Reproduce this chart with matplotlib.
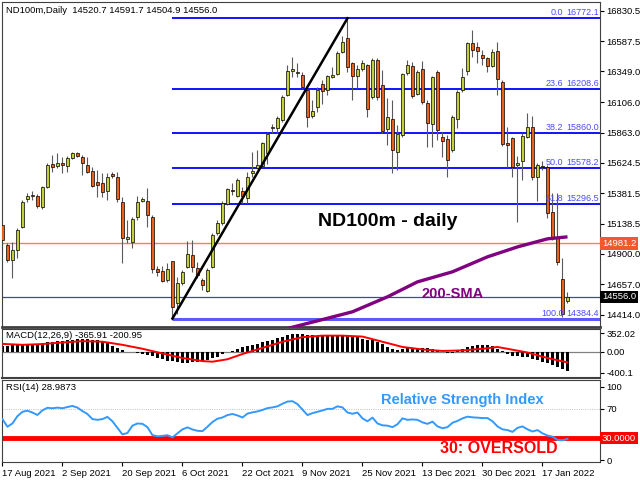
import matplotlib.pyplot as plt
import numpy as np

plt.rcParams['font.family'] = ['Liberation Sans', 'DejaVu Sans']

opens = [15129, 14970, 14851, 14930, 15113, 15336, 15360, 15360, 15272, 15431,
         15614, 15598, 15622, 15598, 15662, 15702, 15670, 15606, 15559, 15471,
         15463, 15400, 15535, 15511, 15312, 15018, 14994, 15193, 15320, 15320,
         15193, 14779, 14764, 14692, 14843, 14509, 14668, 14795, 14891, 14787,
         14692, 14605, 14795, 15066, 15145, 15296, 15408, 15360, 15400, 15344,
         15543, 15582, 15598, 15702, 15900, 15900, 15964, 16163, 16354, 16338,
         16322, 16202, 15996, 16067, 16250, 16202, 16306, 16330, 16505, 16616,
         16417, 16314, 16369, 16401, 16147, 16441, 16242, 15892, 15972, 15710,
         15845, 16338, 16393, 16171, 16369, 16099, 15932, 16346, 15829, 15813,
         15726, 15972, 16202, 16354, 16576, 16544, 16481, 16457, 16393, 16513,
         16266, 15781, 15821, 15606, 15638, 15829, 15908, 15511, 15598, 15590,
         15233, 15034, 14700, 14520.7]
highs = [15145, 14986, 14994, 15105, 15328, 15384, 15400, 15376, 15439, 15622,
         15686, 15702, 15670, 15678, 15710, 15710, 15686, 15670, 15590, 15567,
         15543, 15543, 15551, 15551, 15352, 15169, 15193, 15360, 15352, 15423,
         15209, 14803, 14803, 14827, 14843, 14716, 14772, 15002, 15010, 14835,
         14708, 14787, 15066, 15169, 15320, 15423, 15463, 15503, 15431, 15551,
         15710, 15726, 15789, 15861, 15932, 15996, 16163, 16401, 16465, 16417,
         16346, 16218, 16123, 16226, 16282, 16322, 16385, 16513, 16632, 16772.1,
         16425, 16401, 16441, 16410, 16457, 16457, 16361, 16139, 16123, 15924,
         16338, 16441, 16425, 16361, 16433, 16123, 16314, 16361, 15869, 15845,
         16004, 16202, 16377, 16584, 16680, 16584, 16521, 16465, 16528, 16584,
         16282, 15908, 15829, 15678, 15861, 16020, 15996, 15622, 15638, 15606,
         15384, 15384, 14867, 14591.7]
lows = [14907, 14835, 14708, 14867, 15105, 15312, 15328, 15264, 15256, 15423,
        15551, 15582, 15543, 15551, 15654, 15670, 15527, 15543, 15431, 15352,
        15352, 15328, 15503, 15312, 14827, 14986, 14946, 15169, 15312, 15113,
        14748, 14724, 14676, 14676, 14384.4, 14422, 14652, 14787, 14756, 14708,
        14612, 14597, 14787, 15050, 15129, 15288, 15368, 15352, 15304, 15304,
        15511, 15574, 15590, 15614, 15861, 15861, 15948, 16155, 16306, 16306,
        16218, 15908, 15980, 16028, 16091, 16163, 16298, 16322, 16497, 16346,
        16123, 16218, 16354, 15988, 16131, 16123, 15861, 15765, 15543, 15567,
        15829, 16322, 16139, 16163, 16091, 15749, 15749, 15805, 15670, 15511,
        15710, 15900, 16187, 16322, 16465, 16417, 16401, 16346, 16385, 16163,
        15757, 15590, 15511, 15153, 15487, 15821, 15487, 15320, 15567, 15185,
        15010, 14811, 14400, 14504.9]
closes = [15010, 14851, 14930, 15090, 15312, 15360, 15368, 15280, 15431, 15606,
          15590, 15622, 15606, 15662, 15702, 15678, 15622, 15551, 15439, 15447,
          15392, 15511, 15519, 15336, 15026, 15034, 15177, 15312, 15336, 15209,
          14779, 14756, 14684, 14779, 14477, 14668, 14756, 14899, 14795, 14732,
          14652, 14772, 15050, 15145, 15304, 15415, 15400, 15487, 15360, 15511,
          15559, 15606, 15781, 15853, 15908, 15980, 16147, 16354, 16369, 16346,
          16226, 15988, 16036, 16202, 16195, 16314, 16322, 16497, 16584, 16385,
          16314, 16369, 16417, 16051, 16441, 16147, 15877, 15988, 15726, 15853,
          16330, 16401, 16155, 16346, 16107, 15940, 16306, 15885, 15797, 15646,
          15988, 16187, 16306, 16576, 16521, 16513, 16457, 16393, 16505, 16290,
          15773, 15765, 15590, 15622, 15837, 15908, 15511, 15606, 15590, 15225,
          15034, 14835, 14422, 14556.0]

sma_idx = [56, 63, 70, 77, 83, 90, 97, 103, 109, 113]
sma_vals = [14295, 14366, 14438, 14557, 14676, 14756, 14875, 14954, 15018, 15034]

macd_hist = [120, 122, 125, 135, 140, 145, 155, 160, 170, 180,
             190, 200, 215, 225, 235, 240, 240, 238, 235, 225,
             200, 170, 120, 80, 40, 5, -10, -25, -45, -60,
             -85, -110, -140, -165, -180, -200, -205, -205, -200, -190,
             -175, -150, -125, -90, -50, -10, 25, 60, 85, 110,
             135, 160, 180, 205, 230, 260, 285, 320, 352, 350,
             335, 320, 315, 310, 310, 305, 305, 300, 300, 295,
             290, 285, 255, 230, 220, 185, 150, 90, 60, 45,
             60, 65, 70, 75, 75, 70, 55, 40, -10, -25,
             -15, 20, 60, 100, 115, 125, 130, 135, 110, 60,
             20, -40, -70, -85, -95, -105, -130, -155, -185, -210,
             -250, -290, -330, -366]
macd_last = -365.91
signal_last = -200.95
signal_idx = [0, 4, 8, 12, 16, 20, 24, 28, 32, 36, 40, 42, 45, 48, 52, 56, 60, 64,
              68, 72, 76, 80, 84, 88, 92, 96, 99, 101, 105, 109, 113]
signal_vals = [153, 135, 150, 180, 205, 195, 135, 60, -30, -117, -176, -188, -141, -41,
               76, 194, 282, 311, 311, 293, 194, 94, 47, 18, 29, 59, 94, 59, -12, -117, -201]

rsi = [56, 45.6, 50, 60, 66, 67.5, 65, 61.6, 68, 71.5,
       70.8, 71.7, 70.8, 72.5, 74, 71.7, 67, 63, 56, 55,
       56, 59, 53, 44, 35, 37, 47, 50, 49.5, 45,
       34, 32.5, 33, 34, 31, 36.5, 42, 44.7, 41.8, 40,
       39.5, 45.5, 52, 56.5, 58.2, 61.5, 63, 61, 58.2, 63.5,
       65.2, 66.5, 68.5, 71, 72, 73.5, 77, 80, 80.5, 76.5,
       69, 61.5, 64.2, 66, 67.8, 70, 70, 73.5, 72, 65,
       63.3, 65, 57, 53, 58, 50, 47.5, 47, 45, 49,
       57, 55, 55.5, 55, 51.5, 49.5, 52.5, 46, 43.5, 45,
       51, 53.5, 57, 59.3, 58.4, 58, 57.4, 57.4, 53, 46,
       42, 41, 38.5, 44, 46, 42, 39, 41, 36.5, 33.5,
       32, 27.5, 27, 28.9873]

dates = ['17 Aug 2021', '2 Sep 2021', '20 Sep 2021', '6 Oct 2021', '22 Oct 2021',
         '9 Nov 2021', '25 Nov 2021', '13 Dec 2021', '30 Dec 2021', '17 Jan 2022']
date_idx = [0, 12, 24, 36, 48, 60, 72, 84, 96, 108]

price_ticks = [16830.5, 16587.5, 16349.0, 16106.0, 15863.0, 15624.5,
               15381.5, 15138.5, 14900.0, 14657.0, 14414.0]
fib_levels = [0.0, 23.6, 38.2, 50.0, 61.8, 100.0]
fib_start = 34
fib_end = 69
hline_price = 14981.2

bull = '#c2cf3a'
bear = '#e8621e'
fib_color = '#0000ff'
fib_text = '#4b4bff'
fs = 6.8

fig = plt.figure(figsize=(6.4, 4.8), dpi=100)
ax = fig.add_axes([0.003, 0.319, 0.9345, 0.677])
macd_ax = fig.add_axes([0.003, 0.2125, 0.9345, 0.1025])
rsi_ax = fig.add_axes([0.003, 0.0375, 0.9345, 0.171])

n = len(closes)
x = np.arange(n)
xmax = 119.5

# candles
o = np.array(opens)
c = np.array(closes)
body_low = np.minimum(o, c)
body_h = np.maximum(np.abs(c - o), 6)
colors = [bull if cc >= oo else bear for oo, cc in zip(o, c)]
ax.vlines(x, lows, highs, color='#5a5a5a', lw=0.8, zorder=2)
ax.bar(x, body_h, bottom=body_low, width=0.62, color=colors,
       edgecolor='black', linewidth=0.5, zorder=3)

# fibonacci retracement
fib_high = highs[fib_end]
fib_low = lows[fib_start]
for lvl in fib_levels:
    p = fib_high - lvl / 100 * (fib_high - fib_low)
    lw = 2.2 if lvl == 100.0 else 1.3
    col = '#5a5aff' if lvl == 100.0 else fib_color
    ax.hlines(p, fib_start, xmax, color=col, lw=lw, zorder=1)
    ax.text(112.2, p + 8, f"{lvl:.1f}", ha='right', va='bottom',
            color=fib_text, fontsize=6.5, zorder=4)
    ax.text(119.3, p + 8, f"{p:.1f}", ha='right', va='bottom',
            color=fib_text, fontsize=6.5, zorder=4)

ax.plot([fib_start, fib_end], [fib_low, fib_high], color='black', lw=1.8, zorder=4)

ax.axhline(hline_price, color='#ff7f50', lw=1.0, zorder=1)
ax.axhline(closes[-1], color='#4040c0', lw=0.9, zorder=1)

ax.plot(sma_idx, sma_vals, color='#800080', lw=2.4, zorder=5, solid_capstyle='butt')

ax.set_xlim(-0.1, xmax)
ax.set_ylim(14318, 16902)
ax.yaxis.tick_right()
ax.set_yticks(price_ticks)
ax.set_yticklabels([f"{t:.1f}" for t in price_ticks], fontsize=fs)
ax.tick_params(axis='y', length=3, pad=1.5)
ax.set_xticks([])

ax.text(1.003, hline_price, f"{hline_price:.1f}", transform=ax.get_yaxis_transform(),
        ha='left', va='center', fontsize=fs, color='white',
        bbox=dict(boxstyle='square,pad=0.2', fc='#f05a28', ec='none'))
ax.text(1.003, closes[-1], f"{closes[-1]:.1f}", transform=ax.get_yaxis_transform(),
        ha='left', va='center', fontsize=fs, color='white',
        bbox=dict(boxstyle='square,pad=0.2', fc='black', ec='none'))

ax.text(0.006, 0.988, f"ND100m,Daily  {opens[-1]} {highs[-1]} {lows[-1]} {closes[-1]}",
        transform=ax.transAxes, ha='left', va='top', fontsize=fs)
ax.text(77, 15153, 'ND100m - daily', ha='center', va='center',
        fontsize=14, fontweight='bold', color='black', zorder=6)
ax.text(90, 14580, '200-SMA', ha='center', va='center',
        fontsize=10.5, fontweight='bold', color='#800080', zorder=6)

# MACD
macd_ax.bar(x, macd_hist, width=0.75, color='black', zorder=2)
macd_ax.axhline(0, color='#808080', lw=0.9, zorder=1)
macd_ax.plot(signal_idx, signal_vals, color='red', lw=1.4, zorder=3)
macd_ax.set_xlim(-0.1, xmax)
macd_ax.set_ylim(-500, 442)
macd_ax.yaxis.tick_right()
macd_ax.set_yticks([352.02, 0, -400.1])
macd_ax.set_yticklabels(['352.02', '0.00', '-400.1'], fontsize=fs)
macd_ax.tick_params(axis='y', length=3, pad=1.5)
macd_ax.set_xticks([])
macd_ax.text(0.006, 0.96, f"MACD(12,26,9) {macd_last} {signal_last}", transform=macd_ax.transAxes,
             ha='left', va='top', fontsize=fs)

# RSI
rsi_ax.plot(x, rsi, color='#3399ff', lw=1.4, zorder=3)
rsi_ax.axhline(30, color='red', lw=3.5, zorder=2)
rsi_ax.axhline(70, color='#b0b0b0', lw=0.6, ls=':', zorder=1)
rsi_ax.set_xlim(-0.1, xmax)
rsi_ax.set_ylim(-2.7, 109.6)
rsi_ax.yaxis.tick_right()
rsi_ax.set_yticks([100, 70, 30, 0])
rsi_ax.set_yticklabels(['100', '70', '', '0'], fontsize=fs)
rsi_ax.tick_params(axis='y', length=3, pad=1.5)
rsi_ax.text(1.003, 30, '30.0000', transform=rsi_ax.get_yaxis_transform(),
            ha='left', va='center', fontsize=fs, color='white',
            bbox=dict(boxstyle='square,pad=0.2', fc='red', ec='none'))
rsi_ax.text(0.006, 0.96, f"RSI(14) {rsi[-1]:.4f}",
            transform=rsi_ax.transAxes, ha='left', va='top', fontsize=fs)
rsi_ax.text(92, 82, 'Relative Strength Index', ha='center', va='center',
            fontsize=10.5, fontweight='bold', color='#3399ff')
rsi_ax.text(99.3, 16, '30: OVERSOLD', ha='center', va='center',
            fontsize=11.5, fontweight='bold', color='red')
rsi_ax.set_xticks(date_idx)
rsi_ax.set_xticklabels(dates, fontsize=fs, ha='left')
rsi_ax.tick_params(axis='x', length=3, pad=2)

for a in (ax, macd_ax, rsi_ax):
    for s in a.spines.values():
        s.set_color('#404040')
        s.set_linewidth(0.8)
ax.spines['bottom'].set_linewidth(2)
macd_ax.spines['bottom'].set_linewidth(1.5)

fig.savefig('out.png', dpi=100)
plt.close(fig)
